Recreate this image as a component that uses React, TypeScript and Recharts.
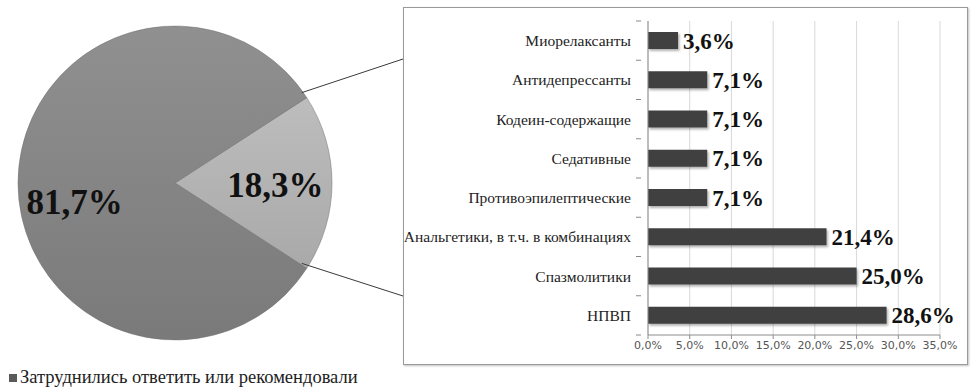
import React from 'react';
import { PieChart, Pie, Cell, BarChart, Bar, XAxis, YAxis, CartesianGrid, LabelList } from 'recharts';

const pieNames = ['Рекомендовали', 'Затруднились ответить или рекомендовали'];
const pieValues = [18.3, 81.7];
const pieFills = ['url(#lightSlice)', 'url(#darkSlice)'];

const categories = [
  'Миорелаксанты',
  'Антидепрессанты',
  'Кодеин-содержащие',
  'Седативные',
  'Противоэпилептические',
  'Анальгетики, в т.ч. в комбинациях',
  'Спазмолитики',
  'НПВП',
];
const barValues = [3.6, 7.1, 7.1, 7.1, 7.1, 21.4, 25.0, 28.6];
const xTicks = [0, 5, 10, 15, 20, 25, 30, 35];

const pieData = pieNames.map((name, i) => ({ name, value: pieValues[i] }));
const barData = categories.map((name, i) => ({ name, value: barValues[i] }));

const fmt = (v: number) => v.toFixed(1).replace('.', ',') + '%';
const RAD = Math.PI / 180;
const serif = 'Liberation Serif, Tinos, DejaVu Serif, serif';

// pie geometry
const PCX = 170;
const PCY = 178;
const PR = 157;
const halfAngle = (pieValues[0] / 100) * 180;

const PieLabel = (props: any) => {
  const { cx, cy, midAngle, outerRadius, index, value } = props;
  const r = outerRadius * 0.64;
  const x = cx + r * Math.cos(-midAngle * RAD);
  const y = cy + r * Math.sin(-midAngle * RAD) + (index === 1 ? 19 : 2);
  return (
    <text x={x} y={y} textAnchor="middle" dominantBaseline="central"
      fontFamily={serif} fontWeight={700} fontSize={35} fill="#111">
      {fmt(value)}
    </text>
  );
};

const CategoryTick = (props: any) => {
  const { x, y, payload, height, visibleTicksCount, index } = props;
  const band = height / visibleTicksCount;
  return (
    <g>
      <text x={x - 9} y={y} textAnchor="end" dominantBaseline="central"
        fontFamily={serif} fontSize={15.5} fill="#222">
        {payload.value}
      </text>
      <line x1={x - 4} x2={x + 1} y1={y - band / 2} y2={y - band / 2} stroke="#888" />
      {index === visibleTicksCount - 1 && (
        <line x1={x - 4} x2={x + 1} y1={y + band / 2} y2={y + band / 2} stroke="#888" />
      )}
    </g>
  );
};

const App: React.FC = () => {
  const up = { x: PCX + PR * Math.cos(halfAngle * RAD), y: PCY - PR * Math.sin(halfAngle * RAD) };
  const down = { x: PCX + PR * Math.cos(halfAngle * RAD), y: PCY + PR * Math.sin(halfAngle * RAD) };

  return (
    <div style={{ position: 'absolute', left: 0, top: 0, width: 975, height: 387, background: '#fff', overflow: 'hidden' }}>
      <div style={{
        position: 'absolute', left: 403, top: 7, width: 563, height: 356,
        border: '1.5px solid #9a9a9a', boxShadow: '1px 1px 2px rgba(0,0,0,0.25)'
      }} />

      <div style={{ position: 'absolute', left: 0, top: 0 }}>
        <PieChart width={360} height={360}>
          <defs>
            <linearGradient id="darkSlice" x1="0" y1="0" x2="0" y2="1">
              <stop offset="0%" stopColor="#909090" />
              <stop offset="100%" stopColor="#7a7a7a" />
            </linearGradient>
            <linearGradient id="lightSlice" x1="0" y1="0" x2="0" y2="1">
              <stop offset="0%" stopColor="#bdbdbd" />
              <stop offset="100%" stopColor="#a9a9a9" />
            </linearGradient>
          </defs>
          <Pie
            data={pieData}
            dataKey="value"
            cx={PCX}
            cy={PCY}
            outerRadius={PR}
            startAngle={-halfAngle}
            endAngle={360 - halfAngle}
            stroke="#6f6f6f"
            strokeWidth={0.5}
            label={PieLabel}
            labelLine={false}
            isAnimationActive={false}
          >
            {pieData.map((entry, index) => (
              <Cell key={`cell-${index}`} fill={pieFills[index]} />
            ))}
          </Pie>
        </PieChart>
      </div>

      <svg width={975} height={387} style={{ position: 'absolute', left: 0, top: 0 }}>
        <line x1={up.x} y1={up.y} x2={403} y2={59} stroke="#3a3a3a" strokeWidth={1} />
        <line x1={down.x} y1={down.y} x2={403} y2={296} stroke="#3a3a3a" strokeWidth={1} />
      </svg>

      <div style={{ position: 'absolute', left: 0, top: 0 }}>
        <BarChart
          width={975}
          height={387}
          data={barData}
          layout="vertical"
          margin={{ top: 21, right: 35, bottom: 31, left: 403 }}
        >
          <defs>
            <filter id="barShadow" x="-10%" y="-30%" width="130%" height="180%">
              <feDropShadow dx="1.5" dy="2" stdDeviation="1" floodColor="#000" floodOpacity="0.3" />
            </filter>
          </defs>
          <CartesianGrid horizontal={false} stroke="#d9d9d9" />
          <XAxis
            type="number"
            domain={[0, 35]}
            ticks={xTicks}
            tickFormatter={fmt}
            interval={0}
            stroke="#8c8c8c"
            tickSize={4}
            height={21}
            tick={{ fontFamily: 'DejaVu Sans, sans-serif', fontSize: 11, fill: '#555' }}
          />
          <YAxis
            type="category"
            dataKey="name"
            width={245}
            stroke="#8c8c8c"
            tickLine={false}
            interval={0}
            tick={CategoryTick}
          />
          <Bar dataKey="value" fill="#404040" barSize={17} filter="url(#barShadow)" isAnimationActive={false}>
            <LabelList
              dataKey="value"
              position="right"
              offset={5}
              formatter={(v: any) => fmt(Number(v))}
              fontFamily={serif}
              fontWeight={700}
              fontSize={23}
              fill="#111"
            />
          </Bar>
        </BarChart>
      </div>

      <div style={{
        position: 'absolute', left: 9, top: 367, fontFamily: serif, fontSize: 18.5, color: '#222',
        display: 'flex', alignItems: 'center', whiteSpace: 'nowrap'
      }}>
        <span style={{ display: 'inline-block', width: 8, height: 8, background: '#5a5a5a', marginRight: 3 }} />
        Затруднились ответить или рекомендовали
      </div>
    </div>
  );
};

export default App;
